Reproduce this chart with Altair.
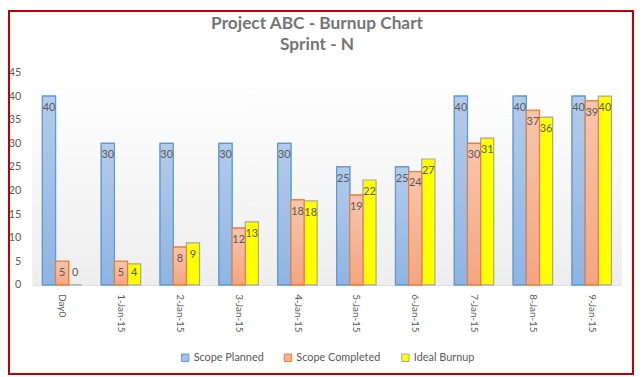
import altair as alt
import pandas as pd

days = ["Day0", "1-Jan-15", "2-Jan-15", "3-Jan-15", "4-Jan-15", "5-Jan-15",
        "6-Jan-15", "7-Jan-15", "8-Jan-15", "9-Jan-15"]
scope_planned = [40, 30, 30, 30, 30, 25, 25, 40, 40, 40]
scope_completed = [5, 5, 8, 12, 18, 19, 24, 30, 37, 39]
ideal_burnup = [0, 4.44, 8.89, 13.33, 17.78, 22.22, 26.67, 31.11, 35.56, 40]
y_ticks = [0, 5, 10, 15, 20, 25, 30, 35, 40, 45]

series = ["Scope Planned", "Scope Completed", "Ideal Burnup"]
fills = ["#a3c1e7", "#f5b294", "#ffff00"]
strokes = ["#5b9bd5", "#ed7d31", "#a5a5a5"]

rows = []
for name, vals in zip(series, [scope_planned, scope_completed, ideal_burnup]):
    for d, v in zip(days, vals):
        rows.append({"day": d, "series": name, "value": v})
df = pd.DataFrame(rows)

FONT = "Lato"
GRAY = "#595959"
W, H = 596, 215

x = alt.X("day:N", sort=days,
          scale=alt.Scale(paddingInner=0.33, paddingOuter=0.165),
          axis=alt.Axis(title=None, labelAngle=90, ticks=False, domainColor="#d9d9d9",
                        domainWidth=1, labelColor=GRAY, labelFont=FONT, labelFontSize=10,
                        labelPadding=9))
y_axis = alt.Axis(title=None, values=y_ticks, grid=False, domain=False,
                  ticks=False, labelColor=GRAY, labelFont=FONT, labelFontSize=11,
                  labelPadding=12, labelOverlap=False, labelFlush=False)
y_scale = alt.Scale(domain=[0, 45], nice=False)
y = alt.Y("value:Q", scale=y_scale, axis=y_axis)
xo = alt.XOffset("series:N", sort=series,
                 scale=alt.Scale(domain=series, paddingInner=0, paddingOuter=0))

base = alt.Chart(df)

bg = base.mark_rect(
    fill=alt.LinearGradient(gradient="linear",
                            stops=[alt.GradientStop(color="#ffffff", offset=0),
                                   alt.GradientStop(color="#eeeeee", offset=1)],
                            x1=0, x2=0, y1=0, y2=1)
).encode(x=alt.value(0), x2=alt.value(W), y=alt.value(0), y2=alt.value(H))

legend = alt.Legend(title=None, orient="none", direction="horizontal",
                    legendX=149, legendY=283, symbolType="square",
                    symbolSize=56, symbolStrokeWidth=1, labelFont=FONT,
                    labelFontSize=11, labelColor=GRAY, labelOffset=3,
                    columnPadding=18)

bars = base.mark_bar(strokeWidth=1.2).encode(
    x=x, y=y, xOffset=xo,
    fill=alt.Fill("series:N", sort=series,
                  scale=alt.Scale(domain=series, range=fills), legend=legend),
    stroke=alt.Stroke("series:N", sort=series,
                      scale=alt.Scale(domain=series, range=strokes), legend=legend),
)


def grad_layer(name, top, bottom, stroke):
    return base.transform_filter(alt.datum.series == name).mark_bar(
        fill=alt.LinearGradient(gradient="linear",
                                stops=[alt.GradientStop(color=top, offset=0),
                                       alt.GradientStop(color=bottom, offset=1)],
                                x1=0, x2=0, y1=0, y2=1),
        stroke=stroke, strokeWidth=1.2
    ).encode(x=x, y=y, xOffset=xo)


g1 = grad_layer("Scope Planned", "#b4cbea", "#8fb4e3", "#5b9bd5")
g2 = grad_layer("Scope Completed", "#f8c6ad", "#f4a581", "#ed7d31")

labels = base.transform_calculate(
    ly="max(datum.value, 5)"
).mark_text(font=FONT, fontSize=11, color=GRAY, baseline="middle", dy=12).encode(
    x=x, xOffset=xo,
    y=alt.Y("ly:Q", scale=y_scale, axis=y_axis),
    text=alt.Text("value:Q", format=".0f"),
)

border = base.mark_rect(filled=False, stroke="#c00000", strokeWidth=1.5).encode(
    x=alt.value(-24.25), x2=alt.value(608.25), y=alt.value(-62.25), y2=alt.value(305.25)
)

chart = alt.layer(bg, bars, g1, g2, labels, border).properties(
    width=W, height=H,
    title=alt.Title(["Project ABC - Burnup Chart", "Sprint - N"], font=FONT, fontSize=17.5,
                    fontWeight="bold", color="#757575", anchor="middle", dx=-10,
                    lineHeight=22, offset=-44),
    padding={"left": 25, "top": 63, "right": 13, "bottom": 91},
    autosize=alt.AutoSizeParams(type="none"),
).configure_view(strokeWidth=0)

chart.save("out.html", embed_options={"renderer": "svg", "actions": False})
